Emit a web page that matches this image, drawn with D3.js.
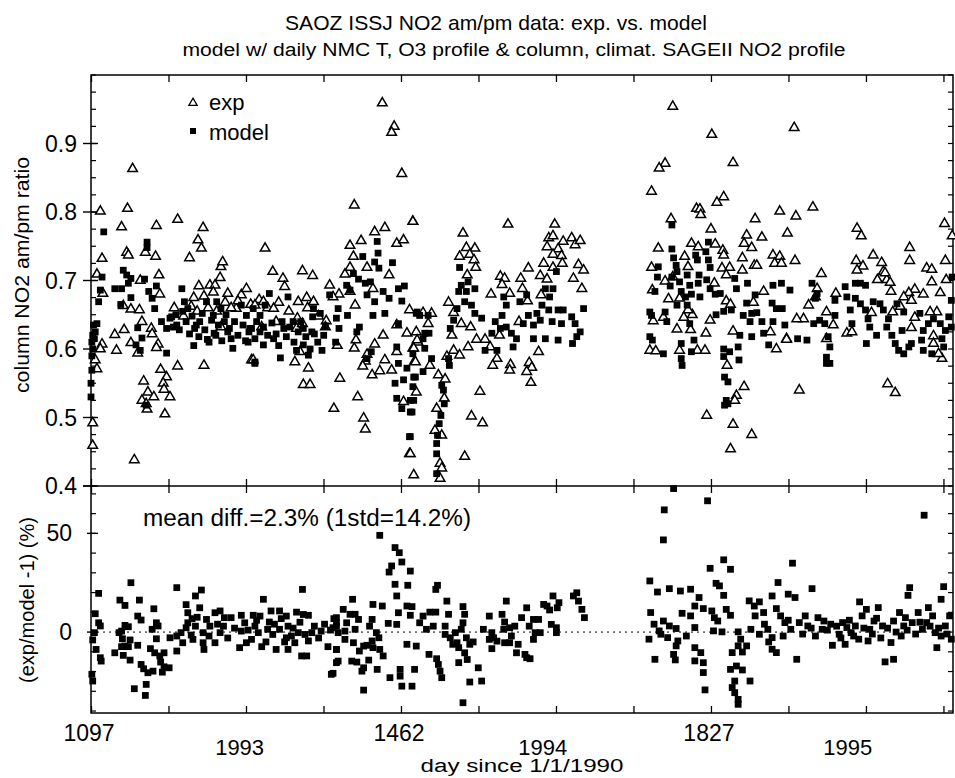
<!DOCTYPE html>
<html>
<head>
<meta charset="utf-8">
<script src="https://cdn.jsdelivr.net/npm/d3@7"></script>
<style>
  html, body { margin: 0; padding: 0; background: #fff; }
  svg text { font-family: "Liberation Sans", Arial, Helvetica, sans-serif; fill: #000; }
</style>
</head>
<body>
<svg id="chart" width="955" height="778"></svg>
<script>
// exp am/pm ratio: [day since 1/1/1990, ratio]
const expData = [
  [1108,0.801],[1110,0.732],[1104,0.709],[1111,0.681],[1110,0.607],[1108,0.600],[1102,0.584],[1104,0.571],
  [1099,0.492],[1099,0.459],[1146,0.863],[1140,0.805],[1133,0.778],[1139,0.741],[1141,0.737],[1155,0.700],
  [1135,0.663],[1144,0.658],[1125,0.621],[1136,0.628],[1127,0.598],[1144,0.609],[1154,0.657],[1157,0.640],
  [1152,0.594],[1168,0.630],[1169,0.622],[1176,0.607],[1174,0.602],[1174,0.780],[1161,0.741],[1173,0.735],
  [1177,0.708],[1178,0.680],[1159,0.553],[1164,0.537],[1157,0.525],[1162,0.520],[1163,0.512],[1171,0.530],
  [1179,0.570],[1186,0.559],[1182,0.550],[1183,0.541],[1190,0.530],[1184,0.505],[1148,0.438],[1199,0.789],
  [1199,0.575],[1213,0.733],[1223,0.759],[1227,0.747],[1229,0.777],[1224,0.692],[1218,0.675],[1230,0.677],
  [1237,0.693],[1243,0.693],[1241,0.683],[1249,0.704],[1250,0.720],[1252,0.727],[1258,0.681],[1230,0.576],
  [1274,0.679],[1280,0.688],[1286,0.584],[1268,0.659],
  [1195,0.660],[1206,0.648],[1215,0.662],[1222,0.655],[1235,0.660],[1245,0.655],[1255,0.668],[1262,0.660],
  [1270,0.670],[1285,0.665],[1295,0.672],[1305,0.660],[1318,0.668],[1330,0.655],[1340,0.645],[1352,0.660],
  [1365,0.648],[1298,0.632],[1315,0.640],[1250,0.632],
  [1440,0.959],[1454,0.925],[1451,0.916],[1463,0.856],[1407,0.810],[1476,0.786],[1443,0.777],[1431,0.771],
  [1457,0.754],[1465,0.759],[1415,0.758],[1402,0.751],[1406,0.735],[1422,0.719],[1402,0.719],[1396,0.709],
  [1448,0.708],[1302,0.747],[1311,0.713],[1323,0.703],[1325,0.691],[1346,0.714],[1358,0.707],[1378,0.693],
  [1389,0.680],[1382,0.676],[1351,0.675],[1341,0.669],[1359,0.669],[1300,0.669],[1312,0.659],[1290,0.664],
  [1472,0.657],[1429,0.688],[1402,0.684],[1408,0.664],[1469,0.623],[1457,0.635],[1441,0.620],[1431,0.607],
  [1409,0.613],[1407,0.601],[1422,0.592],[1420,0.582],[1417,0.575],[1428,0.562],[1437,0.568],[1443,0.584],
  [1451,0.569],[1457,0.596],[1478,0.582],[1476,0.601],[1482,0.610],[1480,0.625],[1390,0.557],[1411,0.530],
  [1383,0.513],[1418,0.499],[1420,0.483],[1465,0.523],[1472,0.447],[1477,0.416],[1288,0.584],[1337,0.581],
  [1347,0.548],[1355,0.548],[1353,0.572],[1343,0.596],[1339,0.630],[1346,0.637],[1374,0.641],[1387,0.605],
  [1373,0.632],
  [1476,0.786],[1535,0.769],[1539,0.748],[1549,0.747],[1531,0.735],[1543,0.738],[1548,0.730],[1550,0.719],
  [1540,0.708],[1518,0.668],[1524,0.653],[1533,0.637],[1544,0.632],[1522,0.620],[1524,0.598],[1531,0.591],
  [1516,0.589],[1541,0.603],[1551,0.614],[1561,0.614],[1568,0.680],[1579,0.706],[1584,0.703],[1581,0.694],
  [1590,0.681],[1588,0.782],[1603,0.703],[1612,0.718],[1605,0.688],[1611,0.670],[1601,0.640],[1575,0.586],
  [1570,0.576],[1591,0.577],[1590,0.569],[1613,0.580],[1616,0.573],[1610,0.567],[1615,0.551],[1624,0.596],
  [1567,0.603],[1578,0.620],[1555,0.538],[1545,0.502],[1558,0.492],[1537,0.443],[1508,0.433],[1510,0.426],
  [1508,0.411],[1504,0.513],[1510,0.474],[1502,0.481],[1513,0.528],[1506,0.562],[1514,0.556],[1479,0.581],
  [1480,0.537],[1473,0.447],[1496,0.576],[1477,0.601],[1494,0.637],[1498,0.652],[1488,0.653],[1481,0.613],
  [1643,0.782],[1636,0.762],[1641,0.765],[1653,0.757],[1634,0.749],[1647,0.746],[1641,0.738],[1651,0.736],
  [1663,0.762],[1667,0.752],[1673,0.758],[1630,0.725],[1652,0.725],[1626,0.707],[1634,0.702],[1641,0.719],
  [1671,0.723],[1677,0.715],[1665,0.703],[1675,0.688],[1627,0.679],
  [1782,0.954],[1828,0.913],[1853,0.872],[1773,0.871],[1766,0.864],[1757,0.830],[1842,0.822],[1834,0.814],
  [1810,0.805],[1814,0.804],[1815,0.796],[1908,0.801],[1879,0.790],[1780,0.790],[1827,0.775],[1869,0.766],
  [1887,0.763],[1866,0.754],[1875,0.748],[1917,0.769],[1765,0.747],[1804,0.754],[1812,0.749],[1832,0.753],
  [1841,0.744],[1842,0.737],[1796,0.735],[1864,0.733],[1900,0.737],[1908,0.735],[1902,0.725],[1910,0.725],
  [1878,0.722],[1881,0.722],[1757,0.719],[1800,0.720],[1840,0.718],[1849,0.719],[1864,0.715],[1845,0.708],
  [1773,0.699],[1782,0.705],[1758,0.686],[1831,0.696],[1889,0.684],[1777,0.673],[1790,0.674],[1845,0.670],
  [1850,0.665],[1877,0.668],[1805,0.650],[1800,0.657],[1759,0.641],[1771,0.646],[1826,0.642],[1795,0.646],
  [1787,0.629],[1803,0.628],[1821,0.623],[1853,0.626],[1897,0.625],[1916,0.615],[1904,0.600],[1755,0.598],
  [1762,0.597],[1790,0.598],[1811,0.598],[1820,0.598],[1846,0.576],[1866,0.545],[1857,0.532],[1855,0.525],
  [1822,0.503],[1853,0.490],[1875,0.475],[1850,0.454],
  [1925,0.923],[1947,0.807],[1927,0.794],[1926,0.729],[1957,0.710],[1999,0.776],[2004,0.765],[1998,0.729],
  [2018,0.737],[2006,0.721],[1999,0.715],[2028,0.726],[2030,0.713],[2034,0.701],[2032,0.711],[2061,0.748],
  [2061,0.729],[2081,0.718],[2087,0.716],[2102,0.783],[2103,0.729],[2111,0.765],[2104,0.701],[2087,0.698],
  [2038,0.697],[2023,0.701],[2039,0.684],[2067,0.687],[2060,0.682],[2063,0.671],[2054,0.676],[2077,0.680],
  [2097,0.682],[2093,0.654],[2050,0.662],[2041,0.654],[2067,0.646],[2063,0.631],[2085,0.654],[2089,0.619],
  [2099,0.586],[2016,0.653],[1974,0.681],[1971,0.635],[1963,0.654],[1952,0.688],[1950,0.676],[1942,0.664],
  [1936,0.644],[1928,0.644],[1963,0.615],[1987,0.623],[1993,0.625],[2035,0.549],[2044,0.536],[1931,0.540],
  [1916,0.614],[2089,0.608],[2095,0.593]
];

// model am/pm ratio: [day, ratio]
const modelData = [
  [1112,0.771],[1110,0.705],[1108,0.686],[1106,0.669],[1104,0.637],[1102,0.625],[1101,0.615],[1098,0.610],
  [1098,0.569],[1097,0.530],[1097,0.550],[1098,0.590],[1099,0.600],[1099,0.620],[1100,0.635],
  [1135,0.715],[1139,0.708],[1144,0.703],[1125,0.688],[1133,0.688],[1144,0.675],[1132,0.665],[1141,0.696],
  [1163,0.756],[1163,0.748],[1160,0.702],[1165,0.684],[1174,0.692],[1169,0.674],[1172,0.659],[1152,0.631],
  [1157,0.616],[1150,0.606],[1155,0.598],[1162,0.518],[1186,0.594],[1180,0.640],[1186,0.630],[1192,0.647],
  [1198,0.635],[1204,0.688],[1207,0.669],[1211,0.659],[1219,0.630],[1218,0.605],[1225,0.640],[1233,0.669],
  [1234,0.614],[1241,0.649],[1245,0.669],[1242,0.623],[1250,0.659],[1254,0.640],[1258,0.625],[1264,0.601],
  [1274,0.664],[1280,0.649],[1286,0.630],[1290,0.581],[1282,0.610],[1288,0.659],
  [1190,0.645],[1194,0.632],[1197,0.650],[1201,0.628],[1205,0.655],[1209,0.640],[1213,0.622],[1216,0.648],
  [1221,0.635],[1224,0.618],[1228,0.652],[1231,0.628],[1236,0.610],[1239,0.642],[1244,0.620],[1247,0.635],
  [1251,0.612],[1256,0.650],[1260,0.630],[1262,0.615],[1266,0.640],[1270,0.620],[1276,0.635],[1279,0.612],
  [1283,0.625],[1292,0.640],[1296,0.625],[1300,0.632],[1305,0.620],[1310,0.638],[1315,0.622],[1318,0.605],
  [1322,0.640],[1327,0.618],[1331,0.632],[1336,0.610],[1341,0.625],[1344,0.640],[1350,0.618],[1355,0.600],
  [1360,0.622],[1364,0.610],[1369,0.598],[1371,0.620],
  [1434,0.757],[1435,0.740],[1417,0.735],[1431,0.727],[1452,0.726],[1436,0.718],[1406,0.710],[1412,0.702],
  [1420,0.696],[1426,0.698],[1398,0.693],[1402,0.686],[1422,0.679],[1431,0.669],[1441,0.684],[1448,0.674],
  [1459,0.688],[1466,0.692],[1463,0.670],[1459,0.637],[1480,0.652],[1429,0.649],[1413,0.632],[1410,0.625],
  [1399,0.649],[1388,0.659],[1378,0.679],[1367,0.652],[1373,0.634],[1386,0.645],[1389,0.630],[1385,0.610],
  [1359,0.659],[1358,0.647],[1329,0.676],[1307,0.681],[1302,0.664],[1296,0.649],[1284,0.630],[1290,0.615],
  [1300,0.606],[1312,0.615],[1324,0.630],[1335,0.640],[1347,0.630],[1357,0.625],[1353,0.591],[1347,0.606],
  [1339,0.598],[1320,0.587],[1290,0.579],[1427,0.596],[1422,0.586],[1443,0.652],[1457,0.603],[1459,0.579],
  [1469,0.572],[1476,0.593],[1477,0.559],[1465,0.555],[1455,0.550],[1457,0.528],[1473,0.525],[1473,0.508],
  [1472,0.472],[1463,0.513],
  [1531,0.719],[1533,0.693],[1541,0.698],[1530,0.684],[1539,0.684],[1549,0.688],[1537,0.669],[1545,0.664],
  [1549,0.652],[1557,0.645],[1528,0.659],[1524,0.642],[1520,0.630],[1583,0.676],[1586,0.664],[1581,0.649],
  [1573,0.640],[1579,0.630],[1586,0.632],[1592,0.623],[1598,0.615],[1594,0.603],[1569,0.623],[1561,0.598],
  [1575,0.598],[1602,0.669],[1610,0.679],[1612,0.649],[1606,0.637],[1618,0.635],[1622,0.652],[1626,0.642],
  [1628,0.664],[1632,0.688],[1637,0.676],[1641,0.688],[1636,0.657],[1647,0.657],[1653,0.657],[1651,0.637],
  [1640,0.640],[1618,0.615],[1632,0.615],[1647,0.613],[1645,0.713],[1663,0.647],[1667,0.637],[1673,0.625],
  [1669,0.618],[1664,0.608],[1677,0.659],[1519,0.576],[1518,0.586],[1498,0.586],[1488,0.567],[1479,0.559],
  [1476,0.545],[1477,0.525],[1475,0.508],[1473,0.472],[1510,0.547],[1512,0.540],[1513,0.520],[1509,0.503],
  [1507,0.491],[1505,0.474],[1504,0.462],[1504,0.447],[1504,0.418],[1484,0.649],[1481,0.654],[1494,0.649],
  [1490,0.623],[1488,0.615],[1495,0.623],[1490,0.601],
  [1781,0.781],[1781,0.746],[1783,0.733],[1786,0.722],[1787,0.713],[1781,0.705],[1765,0.720],[1764,0.705],
  [1761,0.684],[1779,0.692],[1790,0.698],[1799,0.708],[1802,0.693],[1792,0.684],[1797,0.676],[1804,0.680],
  [1809,0.737],[1811,0.730],[1813,0.708],[1812,0.696],[1824,0.756],[1821,0.742],[1824,0.730],[1826,0.719],
  [1822,0.701],[1826,0.688],[1832,0.680],[1838,0.681],[1814,0.676],[1855,0.703],[1857,0.688],[1870,0.696],
  [1851,0.657],[1842,0.655],[1833,0.650],[1869,0.667],[1879,0.679],[1865,0.649],[1875,0.652],[1881,0.653],
  [1873,0.640],[1887,0.640],[1899,0.667],[1900,0.693],[1910,0.696],[1904,0.659],[1911,0.659],[1900,0.640],
  [1914,0.635],[1889,0.623],[1895,0.606],[1861,0.620],[1875,0.618],[1859,0.603],[1860,0.584],[1842,0.600],
  [1842,0.589],[1849,0.596],[1843,0.559],[1847,0.552],[1845,0.525],[1843,0.518],[1847,0.520],[1755,0.654],
  [1757,0.649],[1773,0.654],[1775,0.640],[1755,0.618],[1758,0.613],[1771,0.593],[1792,0.608],[1792,0.586],
  [1793,0.576],[1804,0.596],[1807,0.613],[1787,0.664],[1799,0.664],[1802,0.637],
  [1920,0.686],[1929,0.615],[1940,0.613],[1946,0.696],[1952,0.681],[1950,0.674],[1948,0.637],[1955,0.642],
  [1961,0.637],[1965,0.618],[1967,0.603],[1963,0.588],[1963,0.579],[1967,0.579],[1973,0.671],[1973,0.649],
  [1985,0.691],[1987,0.676],[1991,0.657],[1993,0.637],[1997,0.674],[1997,0.696],[2003,0.696],[2009,0.693],
  [2003,0.666],[2009,0.657],[2012,0.644],[2014,0.632],[2022,0.620],[2010,0.608],[2018,0.669],[2026,0.666],
  [2030,0.657],[2036,0.644],[2034,0.632],[2040,0.620],[2044,0.608],[2048,0.598],[2054,0.593],[2060,0.603],
  [2063,0.608],[2052,0.627],[2046,0.666],[2054,0.654],[2073,0.652],[2077,0.627],[2075,0.613],[2077,0.598],
  [2087,0.593],[2083,0.637],[2089,0.644],[2097,0.637],[2103,0.627],[2099,0.615],[2101,0.603],[2107,0.647],
  [2110,0.671],[2110,0.632],[2111,0.705]
];

// exp/model - 1 (%): [day, percent]
const diffData = [
  [1106,19.6],[1102,9.3],[1106,4.7],[1108,3.1],[1101,-0.3],[1099,-4],[1103,-8.8],[1108,-13],[1109,-14.7],
  [1098,-21.4],[1099,-24.8],[1144,25],[1131,16.2],[1137,13.5],[1154,16.2],[1152,8.1],[1156,6.1],[1137,3.4],
  [1141,2.7],[1133,0.5],[1130,-0.3],[1134,-3.4],[1143,-4],[1137,-7.1],[1133,-7.4],[1141,-7.4],[1125,-10.5],
  [1135,-11.8],[1143,-14.2],[1152,-6.7],[1156,-16.4],[1159,-18.6],[1164,-20.6],[1170,-19.8],[1148,-28.7],
  [1162,-26.5],[1161,-32.1],[1198,22.5],[1171,11.8],[1174,4.7],[1176,3.1],[1169,1.4],[1174,-3.4],[1167,-8.4],
  [1172,-10.5],[1178,-12.1],[1183,-10.5],[1179,-15.2],[1183,-17.6],[1181,-20.3],[1190,-2.9],[1189,-18.1],
  [1198,-9.6],[1198,-2],[1203,-0.3],[1209,2.2],[1211,9.8],[1209,13.9],[1220,18.3],[1227,21.3],[1225,12.3],
  [1216,6.8],[1220,3],[1211,4.7],[1205,-5.4],[1217,-3.7],[1229,-5.4],[1230,-8.8],[1229,-0.3],[1233,6.4],
  [1243,9.8],[1237,3],[1243,-5.4],[1249,10.7],[1254,7.3],[1253,3],[1249,-0.3],[1262,7.3],[1274,8.5],
  [1278,4.7],[1274,0.5],[1272,-7.9],[1280,-5.4],[1288,8.5],[1296,8.1],[1300,16.6],[1290,3],[1294,-0.3],
  [1286,-3.7],[1298,-7.4],[1307,5.1],[1309,10.7],[1305,1.4],[1311,-1.2],[1303,-5],[1315,-8.8],[1319,10.7],
  [1321,6.8],[1327,8.1],[1319,1.4],[1329,3],[1327,-2.9],[1333,-2],[1339,10.1],[1347,8.9],[1353,8.5],
  [1346,21.6],[1341,-0.3],[1349,-1.2],[1353,-4.5],[1345,-12.1],[1351,-12.1],[1329,-8.8],[1337,-5.4],
  [1357,-0.3],[1368,0.5],[1376,-7.4],[1383,6.8],[1386,3],[1382,-20.9],[1386,-8.8],[1386,-15.5],
  [1215,-1.5],[1222,7.5],[1236,-2],[1246,4],[1258,-3],[1266,2],[1282,1],[1292,6],[1313,4],[1325,-5],
  [1335,2],[1343,5],[1360,3],[1365,-3],[1372,4],[1379,1],
  [1437,49],[1455,42.8],[1460,40.2],[1451,33.5],[1448,30.4],[1463,35.5],[1473,30.9],[1455,24.2],[1470,23.7],
  [1505,23.7],[1503,21.6],[1457,18.3],[1459,9.8],[1469,13.2],[1475,12.9],[1473,8.5],[1457,3.9],[1447,4.4],
  [1440,13.2],[1429,14],[1405,16.6],[1394,11.5],[1402,9],[1408,9],[1412,6.4],[1386,7.3],[1386,4.7],
  [1398,4.7],[1382,2.2],[1388,-0.3],[1396,0.5],[1408,1.4],[1428,6.4],[1425,3],[1433,-0.3],[1436,-2.9],
  [1428,-4.5],[1422,-6.7],[1429,-7.9],[1437,-8.8],[1418,-7.1],[1413,-9.6],[1406,-5.4],[1396,-3.7],
  [1386,-8.8],[1388,-14.7],[1380,-21.4],[1404,-14.7],[1410,-15.2],[1418,-18.1],[1416,-19.8],[1424,-14.2],
  [1434,-18.9],[1418,-29.4],[1441,-12.1],[1449,-23.1],[1461,-18.9],[1461,-22.3],[1463,-27.4],[1475,-27.4],
  [1478,-18.9],[1469,-6.2],[1480,-7.1],[1484,4.7],[1488,8.1],[1492,1.4],[1496,10.1],[1503,10.1],[1500,3],
  [1495,-11.3],[1504,-13.5],[1506,-16.4],[1508,-19.8],[1510,-23.1],[1516,15.7],[1518,9],[1514,3],
  [1514,-1.2],[1520,-2.9],[1526,-0.3],[1528,-5.4],[1523,-6.2],[1530,-7.9],[1535,12.9],[1537,9],[1535,4.7],
  [1533,1.4],[1539,-2.9],[1537,-10.5],[1543,-6.2],[1547,-5],[1530,-15.5],[1540,-13.9],[1553,-18.1],
  [1543,-25.3],[1557,-24.8],[1535,-35.8],[1559,1.4],[1566,8.1],[1569,-0.3],[1571,-2.9],[1566,-3.7],
  [1575,-4.6],[1569,-8.4],[1581,9],[1584,5.1],[1586,15.7],[1583,1.4],[1590,2.2],[1592,-2],[1590,-5.4],
  [1584,-5.4],[1596,3],[1600,-6.2],[1598,-10.5],[1608,-11.3],[1610,-13],[1614,-13.5],[1604,7.3],
  [1610,12.3],[1613,3],[1618,6.4],[1624,6.4],[1620,-0.3],[1618,-3.7],[1626,-0.3],[1630,14],[1634,13.2],
  [1641,18.3],[1637,11.2],[1646,12.3],[1648,14.9],[1639,3.9],[1645,2.2],[1645,-0.3],[1665,18.3],
  [1669,19.9],[1671,15.7],[1675,11.5],[1678,7.3],
  [1783,72.7],[1823,66.5],[1772,61.9],[1771,46.7],[2078,59.2],[1755,25.9],[1764,20.3],[1778,22],[1791,20.8],
  [1803,21.7],[1813,17.5],[1842,36.6],[1826,32.3],[1850,31.8],[1833,24.7],[1837,23.4],[1842,18.6],
  [1923,34.9],[1906,25.1],[1918,19.2],[1926,17.5],[1946,22],[1899,18.3],[2061,22.5],[2059,18.6],[2101,23],
  [2098,16.6],[1756,9.9],[1760,4],[1771,5.6],[1778,3.1],[1786,1.8],[1793,9.5],[1803,8.2],[1808,13.2],
  [1818,11.9],[1808,2.3],[1798,-2],[1788,-4.5],[1776,-2.8],[1768,-1.1],[1766,0.6],[1754,-3.6],[1786,-7],
  [1783,-11.3],[1785,-14.1],[1761,-13.8],[1808,-7.9],[1808,-14.6],[1815,-10.4],[1818,-15.5],[1818,-20.5],
  [1820,-29.3],[1828,10.7],[1831,7.3],[1835,5.6],[1845,11.5],[1850,8.5],[1840,0.1],[1830,0.6],[1859,0.1],
  [1862,-3.6],[1859,-7],[1864,-10.1],[1852,-10.4],[1850,-18.9],[1857,-17.2],[1864,-19.2],[1855,-24.8],
  [1852,-28.1],[1855,-30.7],[1859,-34.1],[1859,-36.6],[1873,-24.8],[1869,-7],[1874,1.4],[1872,15.8],
  [1878,13.2],[1884,15.3],[1879,8.2],[1889,9.9],[1884,-1.1],[1894,1.4],[1899,-2.8],[1899,-8.7],[1904,-10.4],
  [1904,11.9],[1909,8.2],[1914,4.8],[1921,1.4],[1928,-13.8],[1931,4.8],[1938,8.2],[1941,3.1],[1953,7.3],
  [1960,5.6],[1958,1.4],[1968,4],[1970,-6.7],[1978,-1.1],[1982,4.8],[1987,2.3],[1985,-6.2],[1992,-0.3],
  [1997,3.1],[2001,-3.6],[2002,15.3],[2010,11.5],[2012,-4.5],[2005,8.2],[2014,1.4],[2019,5.6],[2024,12.4],
  [2029,3.1],[2032,-15.1],[2042,-13.8],[2039,-5.3],[2042,5.6],[2049,9.9],[2054,3.1],[2056,7.3],[2064,4.8],
  [2071,9.9],[2076,1.4],[2081,4.8],[2083,12.4],[2088,8.2],[2091,-0.3],[2093,-7.9],[2098,-2],[2103,3.1],
  [2108,8.2],[2110,-3.6],
  [1935,-1],[1945,2],[1950,-2],[1964,1],[1975,3],[1980,-3],[1990,6],[1995,-2],[2007,2],[2017,-1],[2022,7],
  [2027,-3],[2035,2],[2045,0],[2051,-2],[2058,1],[2068,-1],[2073,5],[2085,3],[2095,2],[2105,-1],[1890,4],
  [1895,-5],[1912,-2],[1918,6]
];

const dayTickLabels = [1097, 1462, 1827];
const yearLabels = ['1993', '1994', '1995'];
const yearLabelDays = [1272, 1629, 1988];
const ratioTickLabels = [0.4, 0.5, 0.6, 0.7, 0.8, 0.9];
const diffTickLabels = [0, 50];

const X0 = 91, X1 = 953;
const TOP_Y0 = 75, MID_Y = 486, BOT_Y1 = 713;

const svg = d3.select('#chart');

const x = d3.scaleLinear().domain([1097, 2112]).range([X0, X1]);
const yTop = d3.scaleLinear().domain([0.4, 1.0]).range([MID_Y, TOP_Y0]);
const yBot = d3.scaleLinear().domain([-41, 74]).range([BOT_Y1, MID_Y]);

// quarter-year ticks along the day axis
const quarterTicks = d3.range(0, 12).map(k => 1097 + k * 91.25);

// --- titles
svg.append('text')
    .attr('x', 496).attr('y', 30)
    .attr('text-anchor', 'middle')
    .style('font-size', '21px')
    .attr('textLength', 422).attr('lengthAdjust', 'spacingAndGlyphs')
    .text('SAOZ ISSJ NO2 am/pm data: exp. vs. model');

svg.append('text')
    .attr('x', 514).attr('y', 56)
    .attr('text-anchor', 'middle')
    .style('font-size', '18px')
    .attr('textLength', 663).attr('lengthAdjust', 'spacingAndGlyphs')
    .text('model w/ daily NMC T, O3 profile & column,  climat. SAGEII NO2 profile');

// --- x ticks on frame lines (inward)
function xTicks(axis, y, dir) {
    const g = svg.append('g').attr('transform', `translate(0,${y})`)
        .call(axis.tickValues(quarterTicks).tickSize(7).tickFormat(''));
    g.select('.domain').remove();
    g.selectAll('.tick line').attr('y2', dir * 7).attr('stroke', '#000').attr('stroke-width', 1.3);
}
xTicks(d3.axisBottom(x), TOP_Y0, 1);
xTicks(d3.axisTop(x), MID_Y, -1);
xTicks(d3.axisBottom(x), MID_Y, 1);
xTicks(d3.axisTop(x), BOT_Y1, -1);

// --- y ticks, top panel
const topMinor = d3.range(0, 25).map(i => +(0.4 + i * 0.025).toFixed(3));
const gTop = svg.append('g');
gTop.selectAll('.minorL').data(topMinor).enter().append('line')
    .attr('x1', X0).attr('x2', X0 + 5)
    .attr('y1', d => yTop(d)).attr('y2', d => yTop(d))
    .attr('stroke', '#000').attr('stroke-width', 1.2);
gTop.selectAll('.minorR').data(topMinor).enter().append('line')
    .attr('x1', X1).attr('x2', X1 - 5)
    .attr('y1', d => yTop(d)).attr('y2', d => yTop(d))
    .attr('stroke', '#000').attr('stroke-width', 1.2);
gTop.selectAll('.major').data(ratioTickLabels).enter().append('line')
    .attr('x1', X0 - 8).attr('x2', X0 + 7)
    .attr('y1', d => yTop(d)).attr('y2', d => yTop(d))
    .attr('stroke', '#000').attr('stroke-width', 1.4);
gTop.selectAll('.lab').data(ratioTickLabels).enter().append('text')
    .attr('x', 77).attr('y', d => yTop(d) + 8)
    .attr('text-anchor', 'end')
    .style('font-size', '23px')
    .text(d => d3.format('.1f')(d));

// --- y ticks, bottom panel
const botMinor = d3.range(-40, 71, 10);
const gBot = svg.append('g');
gBot.selectAll('.minorL').data(botMinor).enter().append('line')
    .attr('x1', X0).attr('x2', X0 + 5)
    .attr('y1', d => yBot(d)).attr('y2', d => yBot(d))
    .attr('stroke', '#000').attr('stroke-width', 1.2);
gBot.selectAll('.minorR').data(botMinor).enter().append('line')
    .attr('x1', X1).attr('x2', X1 - 5)
    .attr('y1', d => yBot(d)).attr('y2', d => yBot(d))
    .attr('stroke', '#000').attr('stroke-width', 1.2);
gBot.selectAll('.major').data(diffTickLabels).enter().append('line')
    .attr('x1', X0 - 4).attr('x2', X0 + 7)
    .attr('y1', d => yBot(d)).attr('y2', d => yBot(d))
    .attr('stroke', '#000').attr('stroke-width', 1.4);
gBot.selectAll('.lab').data(diffTickLabels).enter().append('text')
    .attr('x', 72).attr('y', d => yBot(d) + 8)
    .attr('text-anchor', 'end')
    .style('font-size', '23px')
    .text(d => d);

// zero reference line
svg.append('line')
    .attr('x1', X0).attr('x2', X1)
    .attr('y1', yBot(0)).attr('y2', yBot(0))
    .attr('stroke', '#000').attr('stroke-width', 1)
    .attr('stroke-dasharray', '2,4');

// --- frames
svg.append('rect')
    .attr('x', X0).attr('y', TOP_Y0)
    .attr('width', X1 - X0).attr('height', BOT_Y1 - TOP_Y0)
    .attr('fill', 'none').attr('stroke', '#000').attr('stroke-width', 1.5);
svg.append('line')
    .attr('x1', X0 - 8).attr('x2', X1)
    .attr('y1', MID_Y).attr('y2', MID_Y)
    .attr('stroke', '#000').attr('stroke-width', 1.6);

// --- markers
const tri = d3.symbol().type(d3.symbolTriangle).size(40);
const sq = d3.symbol().type(d3.symbolSquare).size(46);

svg.append('g').selectAll('path').data(expData).enter().append('path')
    .attr('d', tri)
    .attr('transform', d => `translate(${x(d[0])},${yTop(d[1])})`)
    .attr('fill', '#fff').attr('stroke', '#000').attr('stroke-width', 1.5);

svg.append('g').selectAll('path').data(modelData).enter().append('path')
    .attr('d', sq)
    .attr('transform', d => `translate(${x(d[0])},${yTop(d[1])})`)
    .attr('fill', '#000');

svg.append('g').selectAll('path').data(diffData).enter().append('path')
    .attr('d', sq)
    .attr('transform', d => `translate(${x(d[0])},${yBot(d[1])})`)
    .attr('fill', '#000');

// --- legend
svg.append('path').attr('d', d3.symbol().type(d3.symbolTriangle).size(30)).attr('transform', 'translate(193,103)')
    .attr('fill', '#fff').attr('stroke', '#000').attr('stroke-width', 1.3);
svg.append('text').attr('x', 209).attr('y', 110).style('font-size', '22px').text('exp');
svg.append('path').attr('d', d3.symbol().type(d3.symbolSquare).size(36)).attr('transform', 'translate(193,131)').attr('fill', '#000');
svg.append('text').attr('x', 209).attr('y', 140).style('font-size', '22px').text('model');

svg.append('text')
    .attr('x', 143).attr('y', 526)
    .style('font-size', '23px')
    .attr('textLength', 328).attr('lengthAdjust', 'spacingAndGlyphs')
    .text('mean diff.=2.3% (1std=14.2%)');

// --- axis labels
svg.append('g').selectAll('text').data(dayTickLabels).enter().append('text')
    .attr('x', d => x(d) - 2).attr('y', 741)
    .attr('text-anchor', 'middle')
    .style('font-size', '23px')
    .text(d => d);

svg.append('g').selectAll('text').data(yearLabels).enter().append('text')
    .attr('x', (d, i) => x(yearLabelDays[i])).attr('y', 755)
    .attr('text-anchor', 'middle')
    .style('font-size', '22px')
    .text(d => d);

svg.append('text')
    .attr('x', 522).attr('y', 772)
    .attr('text-anchor', 'middle')
    .style('font-size', '18px')
    .attr('textLength', 203).attr('lengthAdjust', 'spacingAndGlyphs')
    .text('day since 1/1/1990');

svg.append('text')
    .attr('transform', 'translate(29,275) rotate(-90)')
    .attr('text-anchor', 'middle')
    .style('font-size', '20px')
    .attr('textLength', 236).attr('lengthAdjust', 'spacingAndGlyphs')
    .text('column NO2 am/pm ratio');

svg.append('text')
    .attr('transform', 'translate(34,600) rotate(-90)')
    .attr('text-anchor', 'middle')
    .style('font-size', '20px')
    .attr('textLength', 166).attr('lengthAdjust', 'spacingAndGlyphs')
    .text('(exp/model -1) (%)');
</script>
</body>
</html>
